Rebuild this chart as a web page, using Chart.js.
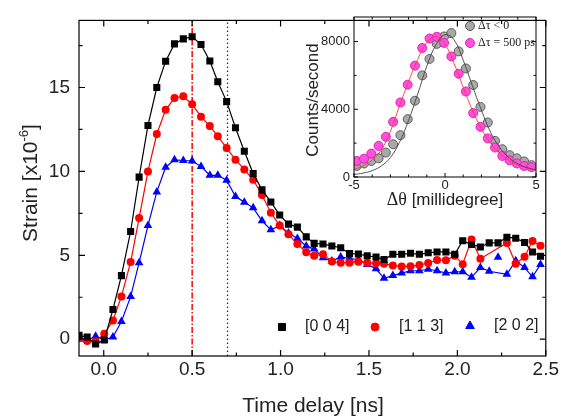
<!DOCTYPE html>
<html>
<head>
<meta charset="utf-8">
<script src="https://cdn.jsdelivr.net/npm/chart.js@4.4.1/dist/chart.umd.min.js"></script>
<style>
  html, body { margin: 0; padding: 0; background: #fff; }
  #wrap { position: relative; width: 561px; height: 420px; overflow: hidden; }
  #main { position: absolute; left: 0; top: 0; }
  #inset { position: absolute; left: 290px; top: 0; }
</style>
</head>
<body>
<div id="wrap">
  <canvas id="main" width="561" height="420"></canvas>
  <canvas id="inset" width="260" height="215"></canvas>
</div>
<script>
// time delay (ns) of each pump-probe measurement
const delays = [-0.14, -0.094, -0.046, 0.003, 0.052, 0.10, 0.152, 0.20, 0.25, 0.30, 0.35, 0.40, 0.45, 0.50, 0.55, 0.60, 0.645, 0.695, 0.745, 0.795, 0.845, 0.895, 0.945, 0.995, 1.045, 1.095, 1.145, 1.19, 1.24, 1.29, 1.34, 1.39, 1.44, 1.49, 1.54, 1.585, 1.635, 1.685, 1.735, 1.785, 1.835, 1.885, 1.935, 1.985, 2.03, 2.08, 2.13, 2.18, 2.23, 2.28, 2.33, 2.38, 2.425, 2.47];

// strain x10^-6 per reflection
const strain004 = [0.23, 0.13, -0.29, -0.05, 1.77, 3.79, 6.42, 9.66, 12.74, 15.0, 16.57, 17.6, 17.9, 18.03, 17.56, 16.58, 15.34, 14.16, 12.6, 11.2, 9.88, 8.9, 8.18, 7.4, 6.86, 6.68, 6.1, 5.71, 5.67, 5.56, 5.45, 5.1, 5.08, 4.97, 4.9, 4.75, 5.06, 5.06, 5.12, 5.06, 5.15, 5.2, 5.2, 5.06, 5.87, 5.64, 5.5, 5.74, 5.74, 6.08, 6.02, 5.76, 5.2, 4.94];
const strain113 = [0.1, -0.1, -0.13, 0.32, 1.12, 2.55, 4.6, 7.22, 10.0, 12.23, 13.67, 14.37, 14.48, 14.0, 13.26, 12.7, 12.1, 11.39, 10.7, 10.12, 9.5, 8.6, 7.54, 6.77, 6.25, 5.67, 5.18, 4.97, 5.07, 4.63, 4.56, 4.56, 4.62, 4.55, 4.52, 4.5, 4.4, 4.33, 4.35, 4.42, 4.54, 4.72, 4.7, 4.98, 4.47, 5.94, 4.8, null, null, 5.74, 4.5, 4.92, 5.86, 5.57];
const strain202 = [0.0, -0.05, 0.17, -0.03, 0.13, 1.06, 2.54, 4.56, 6.77, 8.78, 10.25, 10.69, 10.65, 10.62, 10.3, 9.77, 9.77, 9.48, 8.5, 8.17, 7.83, 7.06, 6.52, 6.77, 6.33, 6.0, 5.56, 5.37, 4.85, 4.66, 4.9, 4.8, 4.75, 4.46, 4.2, 3.63, 3.79, 3.94, 4.08, 4.08, 4.17, 4.08, 3.94, 4.02, 4.02, 3.69, 4.27, 4.05, null, 3.87, 4.68, 4.27, 3.72, 4.46];
// [2 0 2] point not joined by the line
const strayDelay = [2.23];
const strayStrain202 = [4.88];

const seriesNames = ['[0 0 4]', '[1 1 3]', '[2 0 2]'];
const markerDelays = [0.5, 0.7];

const xTicksMain = [0, 0.5, 1, 1.5, 2, 2.5];
const yTicksMain = [0, 5, 10, 15];

// rocking curves in the inset
const angles = [-4.85, -4.45, -4.05, -3.65, -3.25, -2.85, -2.45, -2.05, -1.65, -1.25, -0.85, -0.45, -0.05, 0.35, 0.75, 1.15, 1.55, 1.95, 2.35, 2.75, 3.15, 3.55, 3.95, 4.35, 4.75];
const countsBefore = [652, 800, 948, 1106, 1442, 1935, 2470, 3417, 4504, 6000, 6973, 7862, 8300, 8500, 7420, 6410, 5432, 4140, 3220, 2133, 1640, 1290, 1100, 920, 700];
const countsAfter = [948, 1085, 1383, 1837, 2370, 3260, 4403, 5452, 6578, 7620, 8180, 8280, 7920, 7120, 6100, 5050, 3775, 2963, 2280, 1740, 1244, 980, 800, 652, 583];
const fitAngles = [-5, -4.5, -4, -3.5, -3, -2.5, -2, -1.5, -1, -0.5, 0, 0.5, 1, 1.5, 2, 2.5, 3, 3.5, 4, 4.5, 5];
const fitBefore = [150, 230, 380, 650, 1150, 2050, 3350, 4900, 6550, 7800, 8400, 8100, 6900, 5400, 3950, 2650, 1750, 1150, 780, 560, 420];
const fitAfter = [450, 650, 1000, 1600, 2700, 4200, 5650, 6950, 7950, 8300, 7850, 6700, 5300, 3950, 2850, 2000, 1400, 1000, 720, 530, 400];
const insetNames = ['\u0394\u03c4 < 0', '\u0394\u03c4 = 500 ps'];

const xTicksInset = [-5, 0, 5];
const yTicksInset = [0, 4000, 8000];

const SANS = '"Liberation Sans", Arial, sans-serif';
const SERIF = '"Liberation Serif", "Times New Roman", serif';

const pairs = (xs, ys) => xs.map((x, i) => ({ x: x, y: ys[i] }));

// box around the plot with inward major/minor ticks on all four sides
const frameTicks = {
  id: 'frameTicks',
  afterDraw(chart, args, o) {
    const { ctx, chartArea: a, scales } = chart;
    const sx = scales.x, sy = scales.y;
    ctx.save();
    ctx.strokeStyle = '#000';
    ctx.lineWidth = o.lineWidth;
    ctx.strokeRect(a.left, a.top, a.right - a.left, a.bottom - a.top);
    ctx.beginPath();
    const steps = (min, max, step) => {
      const out = [];
      for (let v = Math.ceil(min / step - 1e-6) * step; v <= max + 1e-6; v += step) out.push(v);
      return out;
    };
    steps(sx.min, sx.max, o.xMinor).forEach(v => {
      const px = sx.getPixelForValue(v);
      const len = Math.abs(v / o.xMajor - Math.round(v / o.xMajor)) < 1e-6 ? o.major : o.minor;
      ctx.moveTo(px, a.bottom); ctx.lineTo(px, a.bottom - len);
      ctx.moveTo(px, a.top); ctx.lineTo(px, a.top + len);
    });
    steps(sy.min, sy.max, o.yMinor).forEach(v => {
      const py = sy.getPixelForValue(v);
      const len = Math.abs(v / o.yMajor - Math.round(v / o.yMajor)) < 1e-6 ? o.major : o.minor;
      ctx.moveTo(a.left, py); ctx.lineTo(a.left + len, py);
      ctx.moveTo(a.right, py); ctx.lineTo(a.right - len, py);
    });
    ctx.stroke();
    ctx.restore();
  }
};

// marker + label legend placed inside the plot
const markerLegend = {
  id: 'markerLegend',
  afterDraw(chart, args, o) {
    const ctx = chart.ctx;
    ctx.save();
    o.items.forEach(it => {
      const ds = chart.data.datasets[it.dataset];
      ctx.fillStyle = ds.pointBackgroundColor || ds.backgroundColor;
      ctx.strokeStyle = ds.pointBorderColor || ds.borderColor;
      ctx.lineWidth = ds.pointBorderWidth || 1;
      Chart.helpers.drawPoint(ctx, { pointStyle: ds.pointStyle, radius: ds.pointRadius, rotation: 0, borderWidth: ctx.lineWidth }, it.mx, it.my);
      ctx.fillStyle = o.color;
      ctx.font = o.font;
      ctx.textBaseline = 'middle';
      ctx.textAlign = 'left';
      ctx.fillText(ds.label, it.tx, it.my);
    });
    ctx.restore();
  }
};

// axis titles drawn by hand so that superscripts and mixed fonts work
const axisTitles = {
  id: 'axisTitles',
  afterDraw(chart, args, o) {
    const ctx = chart.ctx;
    ctx.save();
    ctx.fillStyle = o.color;
    ctx.textBaseline = 'alphabetic';
    o.titles.forEach(t => {
      ctx.save();
      ctx.translate(t.x, t.y);
      if (t.vertical) ctx.rotate(-Math.PI / 2);
      let total = 0;
      t.parts.forEach(p => { ctx.font = p.font; total += ctx.measureText(p.text).width; });
      let cx = -total / 2;
      t.parts.forEach(p => {
        ctx.font = p.font;
        ctx.fillText(p.text, cx, t.base + (p.rise || 0));
        cx += ctx.measureText(p.text).width;
      });
      ctx.restore();
    });
    ctx.restore();
  }
};

new Chart(document.getElementById('main'), {
  type: 'line',
  data: {
    datasets: [
      {
        label: seriesNames[0], data: pairs(delays, strain004),
        borderColor: '#000', backgroundColor: '#000', borderWidth: 1.2,
        pointStyle: 'rect', pointRadius: 5, pointBorderWidth: 0
      },
      {
        label: seriesNames[1], data: pairs(delays, strain113), spanGaps: true,
        borderColor: '#ff0000', backgroundColor: '#ff0000', borderWidth: 1.2,
        pointStyle: 'circle', pointRadius: 4, pointBorderWidth: 0
      },
      {
        label: seriesNames[2], data: pairs(delays, strain202), spanGaps: true,
        borderColor: '#0000ff', backgroundColor: '#0000ff', borderWidth: 1.2,
        pointStyle: 'triangle', pointRadius: 5, pointBorderWidth: 0
      },
      {
        label: 'stray', data: pairs(strayDelay, strayStrain202), showLine: false,
        borderColor: '#0000ff', backgroundColor: '#0000ff',
        pointStyle: 'triangle', pointRadius: 5, pointBorderWidth: 0
      },
      {
        label: 'peak', data: [{ x: markerDelays[0], y: -1 }, { x: markerDelays[0], y: 19 }],
        borderColor: '#ff0000', borderWidth: 1.5, borderDash: [6, 2, 1.5, 2], pointRadius: 0
      },
      {
        label: 'delay', data: [{ x: markerDelays[1], y: -1 }, { x: markerDelays[1], y: 19 }],
        borderColor: '#333', borderWidth: 1.3, borderDash: [1.5, 2.5], pointRadius: 0
      }
    ]
  },
  options: {
    responsive: false,
    animation: false,
    events: [],
    layout: { padding: { top: 10, right: 13, left: 0, bottom: 0 } },
    scales: {
      x: {
        type: 'linear', min: -0.14, max: 2.5,
        afterFit: s => { s.height = 64; },
        afterBuildTicks: s => { s.ticks = xTicksMain.map(v => ({ value: v })); },
        grid: { display: false, drawTicks: false },
        border: { display: false },
        ticks: { padding: 2, color: '#222', font: { family: SANS, size: 19 }, callback: v => v.toFixed(1) }
      },
      y: {
        min: -1, max: 19,
        afterFit: s => { s.width = 79; },
        afterBuildTicks: s => { s.ticks = yTicksMain.map(v => ({ value: v })); },
        grid: { display: false, drawTicks: false },
        border: { display: false },
        ticks: { padding: 9, color: '#222', font: { family: SANS, size: 19 }, callback: v => String(v) }
      }
    },
    plugins: {
      legend: { display: false },
      tooltip: { enabled: false },
      frameTicks: { lineWidth: 1.2, xMajor: 0.5, xMinor: 0.25, yMajor: 5, yMinor: 2.5, major: 6, minor: 3.5 },
      markerLegend: {
        font: '16px ' + SANS, color: '#222',
        items: [
          { dataset: 0, mx: 282, my: 327, tx: 305 },
          { dataset: 1, mx: 375, my: 327, tx: 399 },
          { dataset: 2, mx: 470, my: 326, tx: 494 }
        ]
      },
      axisTitles: {
        color: '#222',
        titles: [
          { x: 313, y: 405, base: 7, parts: [{ text: 'Time delay [ns]', font: '21px ' + SANS }] },
          { x: 30, y: 183, base: 7, vertical: true, parts: [
            { text: 'Strain [x10', font: '21px ' + SANS },
            { text: '-6', font: '13px ' + SANS, rise: -9 },
            { text: ']', font: '21px ' + SANS }
          ] }
        ]
      }
    }
  },
  plugins: [frameTicks, markerLegend, axisTitles]
});

new Chart(document.getElementById('inset'), {
  type: 'line',
  data: {
    datasets: [
      {
        label: 'fit before', data: pairs(fitAngles, fitBefore),
        borderColor: '#444', borderWidth: 0.9, pointRadius: 0, tension: 0.4
      },
      {
        label: 'fit after', data: pairs(fitAngles, fitAfter),
        borderColor: '#ff3a3a', borderWidth: 0.9, pointRadius: 0, tension: 0.4
      },
      {
        label: insetNames[1], data: pairs(angles, countsAfter), showLine: false,
        pointStyle: 'circle', pointRadius: 4.5,
        pointBackgroundColor: '#ff50dc', pointBorderColor: '#e01fc0', pointBorderWidth: 1
      },
      {
        label: insetNames[0], data: pairs(angles, countsBefore), showLine: false,
        pointStyle: 'circle', pointRadius: 4.5,
        pointBackgroundColor: '#a9a9a9', pointBorderColor: '#5c5c5c', pointBorderWidth: 1
      }
    ]
  },
  options: {
    responsive: false,
    animation: false,
    events: [],
    layout: { padding: { top: 17, right: 14, left: 0, bottom: 0 } },
    scales: {
      x: {
        type: 'linear', min: -5, max: 5,
        afterFit: s => { s.height = 38; },
        afterBuildTicks: s => { s.ticks = xTicksInset.map(v => ({ value: v })); },
        grid: { display: false, drawTicks: false },
        border: { display: false },
        ticks: { padding: 1, color: '#222', font: { family: SANS, size: 13 }, callback: v => String(v) }
      },
      y: {
        min: 0, max: 9450,
        afterFit: s => { s.width = 64; },
        afterBuildTicks: s => { s.ticks = yTicksInset.map(v => ({ value: v })); },
        grid: { display: false, drawTicks: false },
        border: { display: false },
        ticks: { padding: 4, color: '#222', font: { family: SANS, size: 13 }, callback: v => String(v) }
      }
    },
    plugins: {
      legend: { display: false },
      tooltip: { enabled: false },
      frameTicks: { lineWidth: 1, xMajor: 5, xMinor: 1, yMajor: 4000, yMinor: 2000, major: 4, minor: 2.5 },
      markerLegend: {
        font: '12px ' + SERIF, color: '#222',
        items: [
          { dataset: 3, mx: 180, my: 26, tx: 188 },
          { dataset: 2, mx: 180, my: 43, tx: 188 }
        ]
      },
      axisTitles: {
        color: '#222',
        titles: [
          { x: 155, y: 199, base: 6, parts: [
            { text: '\u0394\u03b8', font: '18px ' + SERIF },
            { text: ' [millidegree]', font: '17px ' + SANS }
          ] },
          { x: 22, y: 100, base: 6, vertical: true, parts: [{ text: 'Counts/second', font: '17px ' + SANS }] }
        ]
      }
    }
  },
  plugins: [frameTicks, markerLegend, axisTitles]
});
</script>
</body>
</html>
